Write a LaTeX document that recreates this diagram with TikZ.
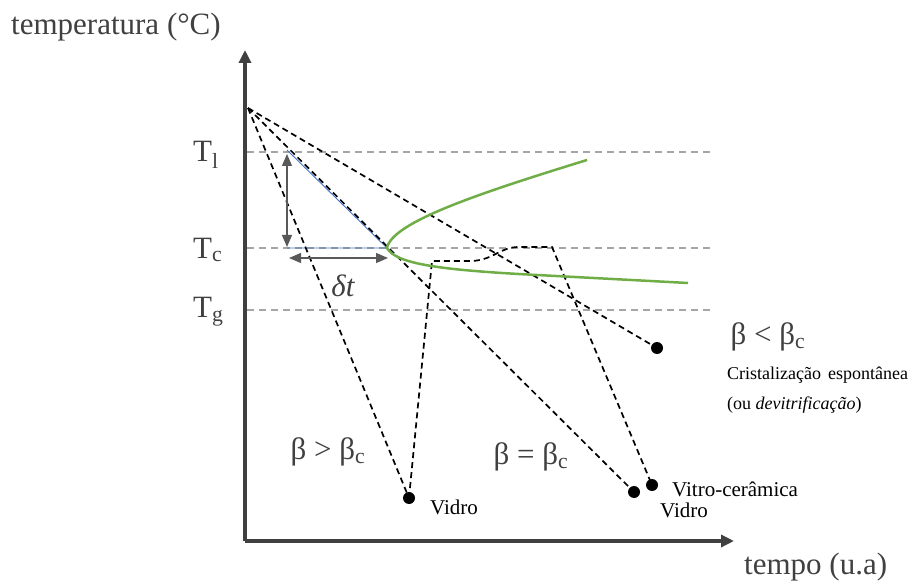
\documentclass[tikz,border=0pt]{standalone}
\usepackage{fontspec}
\setmainfont{Liberation Serif}
\usetikzlibrary{arrows.meta,calc}

\definecolor{axisgray}{HTML}{404040}
\definecolor{levelgray}{HTML}{A6A6A6}
\definecolor{dimgray}{HTML}{595959}
\definecolor{crysgreen}{HTML}{70AD47}
\definecolor{lineblue}{HTML}{4472C4}

\begin{document}
\begin{tikzpicture}[x=1bp, y=-1bp,
    axis/.style={line width=3.5bp, axisgray, -{Triangle[length=13bp,width=12bp]}},
    level/.style={line width=1.5bp, levelgray, dash pattern=on 7bp off 5bp},
    path/.style={line width=1.7bp, black, dash pattern=on 6bp off 4bp},
    dim/.style={line width=1.2bp, dimgray, {Triangle[length=12bp,width=10bp]}-{Triangle[length=12bp,width=10bp]}},
    big/.style={text=axisgray, font=\fontsize{31bp}{35bp}\selectfont, inner sep=0pt},
    small/.style={text=black, font=\fontsize{21bp}{25bp}\selectfont, inner sep=0pt}]
    \useasboundingbox (0,0) rectangle (909,583);
    % axes
    \coordinate (O) at (245,541);
    \coordinate (Ytop) at (245,50);
    \coordinate (Xend) at (734,541);
    % levels
    \coordinate (Tl) at (247,152);
    \coordinate (TlR) at (712,152);
    \coordinate (Tc) at (247,248);
    \coordinate (TcR) at (712,248);
    \coordinate (Tg) at (247,310);
    \coordinate (TgR) at (712,310);
    \draw[level] (Tl) -- (TlR);
    \draw[level] (Tc) -- (TcR);
    \draw[level] (Tg) -- (TgR);
    % cooling paths
    \coordinate (S) at (248,108);
    \coordinate (N) at (387,248);
    \coordinate (V1) at (409,498);
    \coordinate (V2) at (634,492);
    \coordinate (VC) at (652,485);
    \coordinate (B) at (657,348);
    \coordinate (Z1) at (432,261);
    \coordinate (Z2) at (473,261);
    \coordinate (Z3) at (519,247);
    \coordinate (Z4) at (552,247);
    % blue guides
    \coordinate (G) at (287,150);
    \coordinate (H) at (287,248);
    \draw[lineblue, line width=0.9bp] (G) -- (N) -- (H);
    \draw[path] (S) -- (V1);
    \draw[path] (S) -- (V2);
    \draw[path] (S) -- (B);
    \draw[path] (V1) -- (Z1) -- (Z2) .. controls (495,259) and (500,247) .. (Z3) -- (Z4) -- (VC);
    % crystallization curve
    \coordinate (Cu) at (587,160);
    \coordinate (Cl) at (688,283);
    \draw[crysgreen, line width=2.5bp] (Cu) .. controls (480,193) and (392,222) .. (N)
        .. controls (396,264) and (440,270) .. (537,275) -- (Cl);
    % dimensions
    \coordinate (DvT) at (287,154);
    \coordinate (DvB) at (287,247);
    \coordinate (DhL) at (289,258);
    \coordinate (DhR) at (388,258);
    \draw[dim] (DvT) -- (DvB);
    \draw[dim] (DhL) -- (DhR);
    \node[big] (dt) at (343,286) {\itshape δt};
    \draw[axis] (O) -- (Ytop);
    \draw[axis] (O) -- (Xend);
    \foreach \p in {V1,V2,VC,B} {\fill (\p) circle (6bp);}
    % labels
    \node[big, anchor=west] (ylab) at (11,27) {temperatura (°C)};
    \node[big, anchor=west] (xlab) at (744,567) {tempo (u.a)};
    \node[big, anchor=west] (lTl) at (193,155) {T\textsubscript{l}};
    \node[big, anchor=west] (lTc) at (193,250) {T\textsubscript{c}};
    \node[big, anchor=west] (lTg) at (193,312) {T\textsubscript{g}};
    \node[big] (bless) at (768,337) {β < β\textsubscript{c}};
    \node[big] (bmore) at (328,452) {β > β\textsubscript{c}};
    \node[big] (beq) at (531,457) {β = β\textsubscript{c}};
    \node[small, anchor=west, font=\fontsize{18bp}{30bp}\selectfont, align=left] (cryst) at (727,390)
        {Cristalização\hspace{7bp}espontânea\\(ou \textit{devitrificação})};
    \node[small, anchor=west] (vid1) at (430,507) {Vidro};
    \node[small, anchor=west] (vitro) at (672,489) {Vitro-cerâmica};
    \node[small, anchor=west] (vid2) at (660,510) {Vidro};
\end{tikzpicture}
\end{document}
